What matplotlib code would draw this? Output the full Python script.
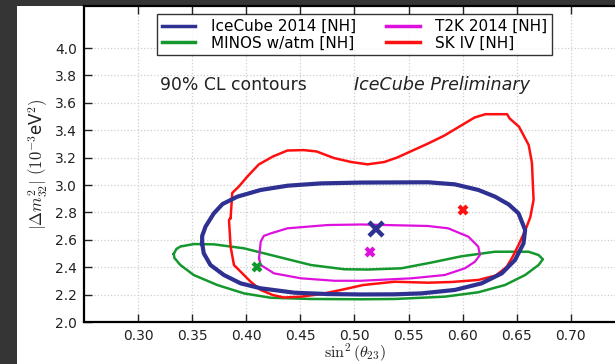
import numpy as np
import matplotlib
matplotlib.use("Agg")
import matplotlib.pyplot as plt
from matplotlib.patches import Rectangle

plt.rcParams['mathtext.fontset'] = 'cm'
plt.rcParams['font.family'] = 'DejaVu Sans'

# 90% CL contours in (sin^2 theta23, |dm^2_32| [1e-3 eV^2])
icecube_s2 = [0.3592, 0.3592, 0.3623, 0.370, 0.378, 0.3917, 0.4133, 0.4381, 0.469, 0.5061,
              0.568, 0.5927, 0.6145, 0.6299, 0.6426, 0.6516, 0.6577, 0.6562, 0.6484, 0.6361,
              0.6174, 0.5927, 0.5618, 0.537, 0.5061, 0.4752, 0.4443, 0.4133, 0.3948, 0.3793,
              0.3669, 0.3607, 0.3592]
icecube_dm = [2.574, 2.628, 2.696, 2.793, 2.861, 2.915, 2.964, 2.995, 3.012, 3.018,
              3.020, 3.005, 2.964, 2.915, 2.858, 2.793, 2.672, 2.574, 2.453, 2.355,
              2.282, 2.234, 2.209, 2.202, 2.201, 2.204, 2.214, 2.246, 2.282, 2.343,
              2.416, 2.501, 2.574]

minos_s2 = [0.3329, 0.3354, 0.3391, 0.3514, 0.370, 0.3978, 0.4288, 0.4597, 0.4906, 0.5123,
            0.5433, 0.5711, 0.599, 0.6299, 0.6609, 0.6701, 0.6741, 0.6701, 0.6577, 0.6391,
            0.6144, 0.5834, 0.5371, 0.5061, 0.4597, 0.4226, 0.3978, 0.3732, 0.3514, 0.3391,
            0.3336, 0.3329]
minos_dm = [2.496, 2.533, 2.551, 2.569, 2.567, 2.538, 2.477, 2.416, 2.385, 2.383,
            2.392, 2.434, 2.480, 2.513, 2.513, 2.489, 2.458, 2.416, 2.343, 2.270,
            2.217, 2.185, 2.168, 2.166, 2.168, 2.177, 2.209, 2.270, 2.343, 2.416,
            2.467, 2.496]

t2k_s2 = [0.4118, 0.4133, 0.4161, 0.4226, 0.4381, 0.4752, 0.5061, 0.568, 0.5865, 0.6052,
          0.6144, 0.6159, 0.6113, 0.602, 0.5834, 0.5526, 0.5217, 0.5061, 0.4814, 0.4505,
          0.4257, 0.4133, 0.4118]
t2k_dm = [2.465, 2.586, 2.628, 2.647, 2.684, 2.708, 2.712, 2.701, 2.684, 2.623,
          2.550, 2.489, 2.440, 2.392, 2.343, 2.319, 2.307, 2.301, 2.301, 2.319,
          2.355, 2.416, 2.465]

sk_s2 = [0.3855, 0.387, 0.393, 0.401, 0.4115, 0.4245, 0.438, 0.453, 0.465, 0.481,
         0.497, 0.512, 0.5275, 0.5395, 0.568, 0.583, 0.597, 0.611, 0.621, 0.641,
         0.6435, 0.652, 0.661, 0.664, 0.6655, 0.6625, 0.658, 0.652, 0.646, 0.6405,
         0.6305, 0.6145, 0.5895, 0.568, 0.537, 0.508, 0.4876, 0.469, 0.4505, 0.4347,
         0.4245, 0.4133, 0.404, 0.3948, 0.3886, 0.3855, 0.384, 0.3855]
sk_dm = [2.759, 2.942, 2.988, 3.062, 3.150, 3.208, 3.252, 3.255, 3.245, 3.197,
         3.168, 3.151, 3.168, 3.201, 3.303, 3.361, 3.427, 3.493, 3.517, 3.517,
         3.485, 3.426, 3.292, 3.161, 2.891, 2.766, 2.672, 2.569, 2.474, 2.401,
         2.339, 2.307, 2.292, 2.287, 2.294, 2.270, 2.234, 2.204, 2.185, 2.179,
         2.197, 2.234, 2.294, 2.367, 2.416, 2.550, 2.745, 2.759]

# best-fit points
best_s2 = {'icecube': 0.520, 'minos': 0.410, 't2k': 0.514, 'sk': 0.600}
best_dm = {'icecube': 2.68, 'minos': 2.40, 't2k': 2.51, 'sk': 2.82}

labels = {'icecube': 'IceCube 2014 [NH]', 'minos': 'MINOS w/atm [NH]',
          't2k': 'T2K 2014 [NH]', 'sk': 'SK IV [NH]'}
colors = {'icecube': '#2e3192', 'minos': '#14982e', 't2k': '#dd10dd', 'sk': '#ff1010'}

fig = plt.figure(figsize=(6.15, 3.64), dpi=100)
fig.patch.set_facecolor('#353535')
# white slide panel behind the axes
fig.add_artist(Rectangle((17 / 615, 0), 1, 358 / 364, transform=fig.transFigure,
                         facecolor='white', edgecolor='none', zorder=-10))

ax = fig.add_axes([84 / 615, 42 / 364, 541 / 615, 316 / 364])
ax.set_facecolor('white')

ax.plot(icecube_s2, icecube_dm, color=colors['icecube'], lw=3, label=labels['icecube'], zorder=4)
ax.plot(minos_s2, minos_dm, color=colors['minos'], lw=1.8, label=labels['minos'], zorder=3)
ax.plot(t2k_s2, t2k_dm, color=colors['t2k'], lw=1.6, label=labels['t2k'], zorder=3)
ax.plot(sk_s2, sk_dm, color=colors['sk'], lw=1.8, label=labels['sk'], zorder=3)

for key in ['minos', 't2k', 'sk']:
    ax.plot(best_s2[key], best_dm[key], marker='x', ms=6, mew=3,
            color=colors[key], ls='none', zorder=5)
ax.plot(best_s2['icecube'], best_dm['icecube'], marker='x', ms=10, mew=3.2,
        color=colors['icecube'], ls='none', zorder=6)

ax.text(0.3205, 3.73, '90% CL contours', fontsize=12.4, color='#222222', va='center')
ax.text(0.4997, 3.73, 'IceCube Preliminary', fontsize=12.6, color='#222222',
        va='center', style='italic')

ax.set_xlim(0.25, 0.75)
ax.set_ylim(2.0, 4.307)
ax.set_xticks([0.30, 0.35, 0.40, 0.45, 0.50, 0.55, 0.60, 0.65, 0.70])
ax.set_xticklabels(['0.30', '0.35', '0.40', '0.45', '0.50', '0.55', '0.60', '0.65', '0.70'])
ax.set_yticks([2.0, 2.2, 2.4, 2.6, 2.8, 3.0, 3.2, 3.4, 3.6, 3.8, 4.0])
ax.set_yticklabels(['2.0', '2.2', '2.4', '2.6', '2.8', '3.0', '3.2', '3.4', '3.6', '3.8', '4.0'])
ax.tick_params(direction='in', length=6, width=1, labelsize=10, colors='#222222',
               top=True, right=True, pad=5)
for sp in ax.spines.values():
    sp.set_linewidth(1.6)
    sp.set_color('black')
ax.grid(True, color='#cfcfcf', ls=':', lw=0.9)
ax.set_axisbelow(True)

ax.set_xlabel(r'$\sin^2(\theta_{23})$', fontsize=11.5, color='#222222', labelpad=-1)
ax.set_ylabel(r'$|\Delta m^2_{32}|\ (10^{-3}$eV$^2)$', fontsize=12, color='#222222', labelpad=4)

leg = ax.legend(loc='upper center', ncol=2, fontsize=11, frameon=True, fancybox=False,
                handlelength=2.2, handletextpad=1.0, columnspacing=2.0, borderaxespad=0.55,
                labelspacing=0.12, borderpad=0.3)
leg.get_frame().set_edgecolor('black')
leg.get_frame().set_linewidth(1.0)
for line in leg.get_lines():
    line.set_linewidth(2.5)

fig.savefig('out.png', dpi=100, facecolor=fig.get_facecolor())
